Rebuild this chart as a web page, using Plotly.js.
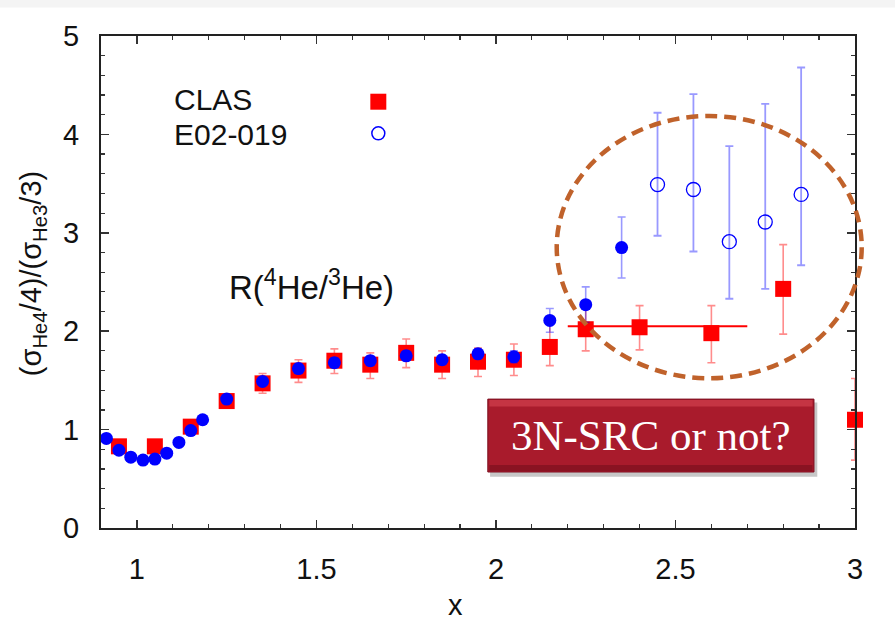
<!DOCTYPE html>
<html>
<head>
<meta charset="utf-8">
<script src="https://cdn.plot.ly/plotly-3.0.1.min.js"></script>
<style>html,body{margin:0;padding:0;background:#fff;}#chart{width:895px;height:642px;}</style>
</head>
<body>
<div id="chart"></div>
<script>
// CLAS (red squares)
const clasX = [0.95, 1.05, 1.15, 1.25, 1.35, 1.45, 1.55, 1.65, 1.75, 1.85, 1.95, 2.05, 2.15, 2.25, 2.40, 2.60, 2.80, 3.00];
const clasY = [0.83, 0.83, 1.03, 1.29, 1.47, 1.60, 1.70, 1.66, 1.78, 1.66, 1.69, 1.71, 1.84, 2.02, 2.04, 1.98, 2.43, 1.10];
const clasErrPlus  = [0.04, 0.04, 0.05, 0.06, 0.10, 0.11, 0.12, 0.12, 0.14, 0.14, 0.14, 0.16, 0.30, 0.24, 0.22, 0.28, 0.45, 0.42];
const clasErrMinus = [0.04, 0.04, 0.05, 0.06, 0.10, 0.12, 0.13, 0.14, 0.15, 0.14, 0.15, 0.16, 0.19, 0.22, 0.23, 0.30, 0.46, 0.41];
// CLAS average over 2.2 < x < 2.7
const avgX = [2.2, 2.7];
const avgY = [2.05, 2.05];
// E02-019 filled (blue)
const e02X = [0.915, 0.95, 0.983, 1.017, 1.05, 1.083, 1.117, 1.15, 1.183, 1.25, 1.35, 1.45, 1.55, 1.65, 1.75, 1.85, 1.95, 2.05, 2.15, 2.25, 2.35];
const e02Y = [0.91, 0.79, 0.72, 0.69, 0.70, 0.76, 0.87, 0.99, 1.10, 1.31, 1.49, 1.62, 1.68, 1.70, 1.75, 1.71, 1.77, 1.74, 2.11, 2.27, 2.85];
const e02Err = [0.02, 0.02, 0.02, 0.02, 0.02, 0.02, 0.02, 0.02, 0.02, 0.03, 0.04, 0.05, 0.05, 0.05, 0.05, 0.05, 0.05, 0.06, 0.12, 0.18, 0.31];
// E02-019 open circles
const e02oX = [2.45, 2.55, 2.65, 2.75, 2.85];
const e02oY = [3.49, 3.44, 2.91, 3.11, 3.39];
const e02oErrPlus  = [0.73, 0.97, 0.97, 1.20, 1.29];
const e02oErrMinus = [0.52, 0.63, 0.58, 0.68, 0.72];

const xTickVals = [1, 1.5, 2, 2.5, 3];
const xTickText = ['1', '1.5', '2', '2.5', '3'];
const yTickVals = [0, 1, 2, 3, 4, 5];
const yTickText = ['0', '1', '2', '3', '4', '5'];

const RED = '#ff0000', BLUE = '#0000ff';
const SANS = 'Liberation Sans, Arial, sans-serif';

const traces = [
  {x: clasX, y: clasY, type: 'scatter', mode: 'markers', cliponaxis: false,
   marker: {symbol: 'square', size: 16, color: RED},
   error_y: {type: 'data', symmetric: false, array: clasErrPlus, arrayminus: clasErrMinus,
             color: 'rgba(255,0,0,0.45)', thickness: 1.6, width: 4}},
  {x: avgX, y: avgY, type: 'scatter', mode: 'lines', line: {color: RED, width: 2}},
  {x: e02X, y: e02Y, type: 'scatter', mode: 'markers', cliponaxis: false,
   marker: {symbol: 'circle', size: 13, color: BLUE},
   error_y: {type: 'data', array: e02Err, color: 'rgba(0,0,255,0.4)', thickness: 1.6, width: 4}},
  {x: e02oX, y: e02oY, type: 'scatter', mode: 'markers',
   marker: {symbol: 'circle-open', size: 14, color: BLUE, line: {width: 1.3, color: BLUE}},
   error_y: {type: 'data', symmetric: false, array: e02oErrPlus, arrayminus: e02oErrMinus,
             color: 'rgba(0,0,255,0.4)', thickness: 1.8, width: 4}}
];

const axisCommon = {
  showline: true, linecolor: '#222', linewidth: 2, mirror: 'allticks',
  ticks: 'inside', ticklen: 8, tickwidth: 1.5, tickcolor: '#333',
  showgrid: false, zeroline: false,
  tickfont: {family: SANS, size: 29, color: '#111'}
};

const layout = {
  width: 895, height: 642,
  margin: {l: 101, r: 40, t: 36, b: 114},
  paper_bgcolor: '#fff', plot_bgcolor: '#fff',
  showlegend: false,
  xaxis: Object.assign({}, axisCommon, {
    range: [0.9, 3.0], tickmode: 'array', tickvals: xTickVals, ticktext: xTickText,
    ticklabelstandoff: 14,
    minor: {dtick: 0.1, tick0: 0, ticks: 'inside', ticklen: 4, tickwidth: 1.2, tickcolor: '#333'}
  }),
  yaxis: Object.assign({}, axisCommon, {
    range: [0, 5], tickmode: 'array', tickvals: yTickVals, ticktext: yTickText,
    ticklabelstandoff: 14,
    minor: {dtick: 0.2, tick0: 0, ticks: 'inside', ticklen: 4, tickwidth: 1.2, tickcolor: '#333'}
  }),
  shapes: [
    // faint top band
    {type: 'rect', xref: 'paper', yref: 'paper', x0: -0.14, x1: 1.06, y0: 1.058, y1: 1.074,
     fillcolor: '#f4f4f4', line: {width: 0}, layer: 'below'},
    // dashed ellipse (paper coords so it is not clipped at the right axis)
    {type: 'circle', xref: 'paper', yref: 'paper', x0: 0.6044, x1: 1.0089, y0: 0.3043, y1: 0.8374,
     line: {color: '#c0622b', width: 4.5, dash: '12px,7px'}},
    // legend keys
    {type: 'rect', xref: 'paper', yref: 'paper', x0: 0.3572, x1: 0.3784, y0: 0.8502, y1: 0.8827,
     fillcolor: RED, line: {width: 0}},
    {type: 'circle', xref: 'paper', yref: 'paper', x0: 0.3592, x1: 0.3764, y0: 0.789, y1: 0.8154,
     line: {color: BLUE, width: 1.5}},
    // text box shadow
    {type: 'rect', xref: 'paper', yref: 'paper', x0: 0.516, x1: 0.950, y0: 0.104, y1: 0.255,
     fillcolor: 'rgba(0,0,0,0.22)', line: {width: 0}},
    // text box
    {type: 'rect', xref: 'paper', yref: 'paper', x0: 0.513, x1: 0.9456, y0: 0.1138, y1: 0.262,
     fillcolor: '#a91b2c', line: {color: '#7d1020', width: 1}},
    {type: 'rect', xref: 'paper', yref: 'paper', x0: 0.515, x1: 0.9436, y0: 0.247, y1: 0.260,
     fillcolor: '#c53443', line: {width: 0}},
    {type: 'rect', xref: 'paper', yref: 'paper', x0: 0.515, x1: 0.9436, y0: 0.116, y1: 0.128,
     fillcolor: '#8a1322', line: {width: 0}}
  ],
  annotations: [
    {xref: 'paper', yref: 'paper', x: 0.0942, y: 0.870, xanchor: 'left', yanchor: 'middle',
     text: 'CLAS', showarrow: false, font: {family: SANS, size: 30, color: '#111'}},
    {xref: 'paper', yref: 'paper', x: 0.0942, y: 0.7988, xanchor: 'left', yanchor: 'middle',
     text: 'E02-019', showarrow: false, font: {family: SANS, size: 30, color: '#111'}},
    {xref: 'paper', yref: 'paper', x: 0.1667, y: 0.494, xanchor: 'left', yanchor: 'middle',
     text: 'R(<sup>4</sup>He/<sup>3</sup>He)', showarrow: false, font: {family: SANS, size: 33, color: '#111'}},
    {xref: 'paper', yref: 'paper', x: -0.0902, y: 0.518, xanchor: 'center', yanchor: 'middle', textangle: -90,
     text: '(σ<sub>He4</sub>/4)/(σ<sub>He3</sub>/3)', showarrow: false, font: {family: SANS, size: 29, color: '#111'}},
    {xref: 'paper', yref: 'paper', x: 0.4695, y: -0.1565, xanchor: 'center', yanchor: 'middle',
     text: 'x', showarrow: false, font: {family: SANS, size: 29, color: '#111'}},
    {xref: 'paper', yref: 'paper', x: 0.7294, y: 0.188, xanchor: 'center', yanchor: 'middle',
     text: '3N-SRC or not?', showarrow: false, font: {family: 'Liberation Serif, DejaVu Serif, serif', size: 43, color: '#ffffff'}}
  ]
};

Plotly.newPlot('chart', traces, layout, {displayModeBar: false, staticPlot: true});
</script>
</body>
</html>
